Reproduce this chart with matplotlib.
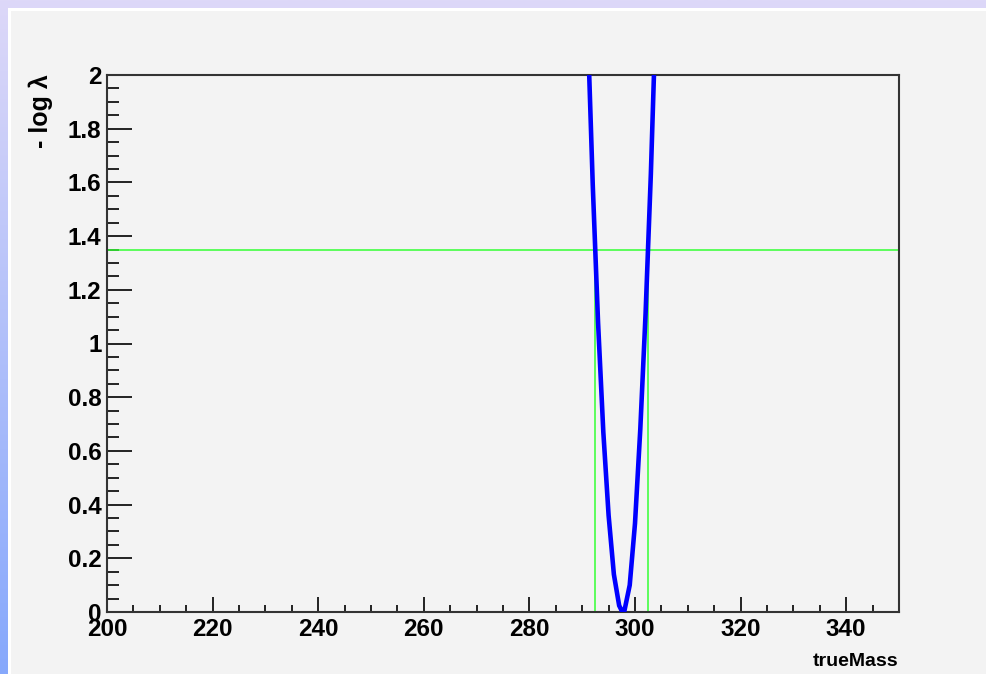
import numpy as np
import matplotlib
matplotlib.use("Agg")
import matplotlib.pyplot as plt
from matplotlib.patches import Rectangle
from matplotlib.ticker import MultipleLocator, FixedLocator, FixedFormatter

# ---- data ----
true_mass = [290, 291, 292, 293, 294, 295, 296, 297, 297.6, 298, 299, 300, 301, 302, 303, 304, 305]
neg_log_lambda = [2.90, 2.20, 1.59, 1.08, 0.67, 0.36, 0.14, 0.024, 0.0, 0.005, 0.10, 0.33, 0.68, 1.11, 1.63, 2.26, 2.98]
threshold = 1.35
interval = [292.4, 302.4]
x_ticks = [200, 220, 240, 260, 280, 300, 320, 340]
x_tick_labels = ["200", "220", "240", "260", "280", "300", "320", "340"]
y_ticks = [0, 0.2, 0.4, 0.6, 0.8, 1.0, 1.2, 1.4, 1.6, 1.8, 2.0]
y_tick_labels = ["0", "0.2", "0.4", "0.6", "0.8", "1", "1.2", "1.4", "1.6", "1.8", "2"]

W, H = 986, 674
fig = plt.figure(figsize=(W / 100, H / 100), dpi=100)

# background gradient
bg = fig.add_axes([0, 0, 1, 1], zorder=-10)
bg.axis("off")
top = np.array([221, 216, 248]) / 255
bot = np.array([134, 168, 252]) / 255
t = np.linspace(0, 1, 256)[:, None]
grad = (top[None, :] * (1 - t) + bot[None, :] * t)[:, None, :]
bg.imshow(grad, aspect="auto", extent=[0, 1, 0, 1], transform=bg.transAxes)
bg.set_xlim(0, 1)
bg.set_ylim(0, 1)

# panel (white edge + gray)
fig.patches.append(Rectangle((7.5 / W, 0), 1, 1 - 7.5 / H, transform=fig.transFigure,
                             facecolor="white", edgecolor="none", zorder=-5))
fig.patches.append(Rectangle((10.5 / W, 0), 1, 1 - 10.5 / H, transform=fig.transFigure,
                             facecolor="#f3f3f3", edgecolor="none", zorder=-4))

ax = fig.add_axes([107 / W, 62 / H, 792 / W, 537 / H])
ax.set_facecolor("#f3f3f3")
ax.set_xlim(200, 350)
ax.set_ylim(0, 2)

ax.plot(true_mass, neg_log_lambda, color="#0000ff", lw=3.3, solid_joinstyle="miter", zorder=3)
ax.axhline(threshold, color="#33ff33", lw=1.1, zorder=2)
for xv in interval:
    ax.plot([xv, xv], [0, threshold], color="#33ff33", lw=1.1, zorder=2)

for side in ["top", "right", "bottom", "left"]:
    ax.spines[side].set_color("#333333")
    ax.spines[side].set_linewidth(1.5)

ax.xaxis.set_major_locator(FixedLocator(x_ticks))
ax.xaxis.set_major_formatter(FixedFormatter(x_tick_labels))
ax.xaxis.set_minor_locator(MultipleLocator(5))
ax.yaxis.set_major_locator(FixedLocator(y_ticks))
ax.yaxis.set_major_formatter(FixedFormatter(y_tick_labels))
ax.yaxis.set_minor_locator(MultipleLocator(0.05))

ax.tick_params(axis="x", which="major", direction="in", length=10.8, width=1.2, pad=4,
               labelsize=17.5, top=False)
ax.tick_params(axis="x", which="minor", direction="in", length=5.4, width=1.2, top=False)
ax.tick_params(axis="y", which="major", direction="in", length=18, width=1.2, pad=4,
               labelsize=17.5, right=False)
ax.tick_params(axis="y", which="minor", direction="in", length=8.6, width=1.2, right=False)
for lab in ax.get_xticklabels() + ax.get_yticklabels():
    lab.set_fontfamily("Liberation Sans")
    lab.set_fontweight("bold")

fig.text(898 / W, 1 - 666 / H, "trueMass", ha="right", va="baseline",
         fontsize=14, fontweight="bold", family="Liberation Sans")
fig.text(41 / W, 1 - 74 / H, "- log λ", ha="center", va="top", rotation=90,
         fontsize=18, fontweight="bold", family="Liberation Sans")

fig.savefig("out.png", dpi=100)
